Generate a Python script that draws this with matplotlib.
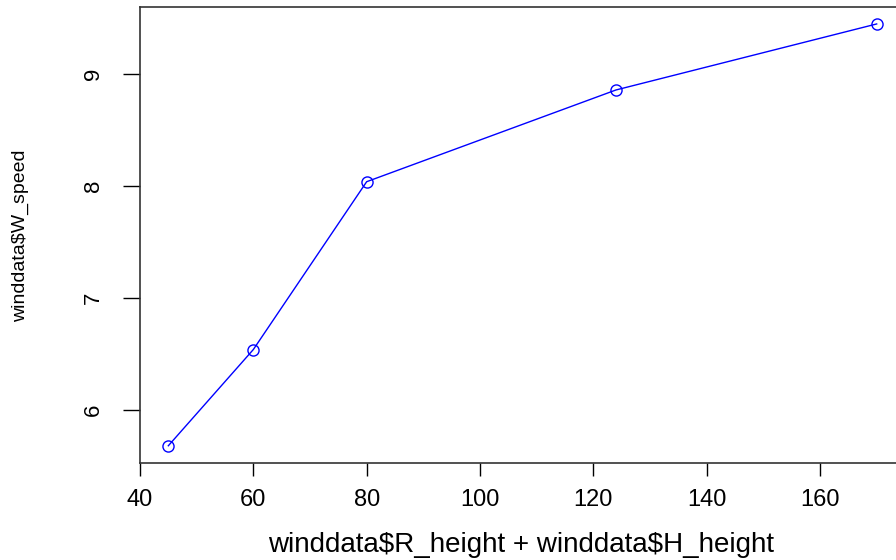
import matplotlib
matplotlib.use("Agg")
import matplotlib.pyplot as plt

height = [45, 60, 80, 124, 170]
speed = [5.68, 6.54, 8.04, 8.86, 9.45]
xticks = [40, 60, 80, 100, 120, 140, 160]
yticks = [6, 7, 8, 9]

plt.rcParams['font.family'] = ['Liberation Sans', 'DejaVu Sans']
fig = plt.figure(figsize=(8.96, 5.6), dpi=100)
ax = fig.add_axes([140/896, 1-462.6/560, (905-140)/896, (462.6-7.1)/560])
ax.plot(height, speed, color='#0000FF', linewidth=1, marker='o', markersize=8,
        markerfacecolor='none', markeredgecolor='#0000FF', markeredgewidth=1)
ax.set_xlim(40, 175)
ax.set_ylim(5.5294, 9.6006)
ax.set_xticks(xticks)
ax.set_yticks(yticks)
ax.tick_params(axis='x', length=9, width=1, pad=10, labelsize=17)
ax.tick_params(axis='y', length=12, width=1, pad=14, labelsize=16, labelrotation=90)
for lbl in ax.get_yticklabels():
    lbl.set_va('center')
for s in ax.spines.values():
    s.set_linewidth(1.2)
    s.set_color('#333333')
fig.text(521/896, 1-545/560, r'winddata\$R_height + winddata\$H_height', fontsize=20,
         ha='center', va='center')
fig.text(20/896, 1-236/560, r'winddata\$W_speed', fontsize=14,
         ha='center', va='center', rotation=90)
fig.savefig('out.png', dpi=100)
